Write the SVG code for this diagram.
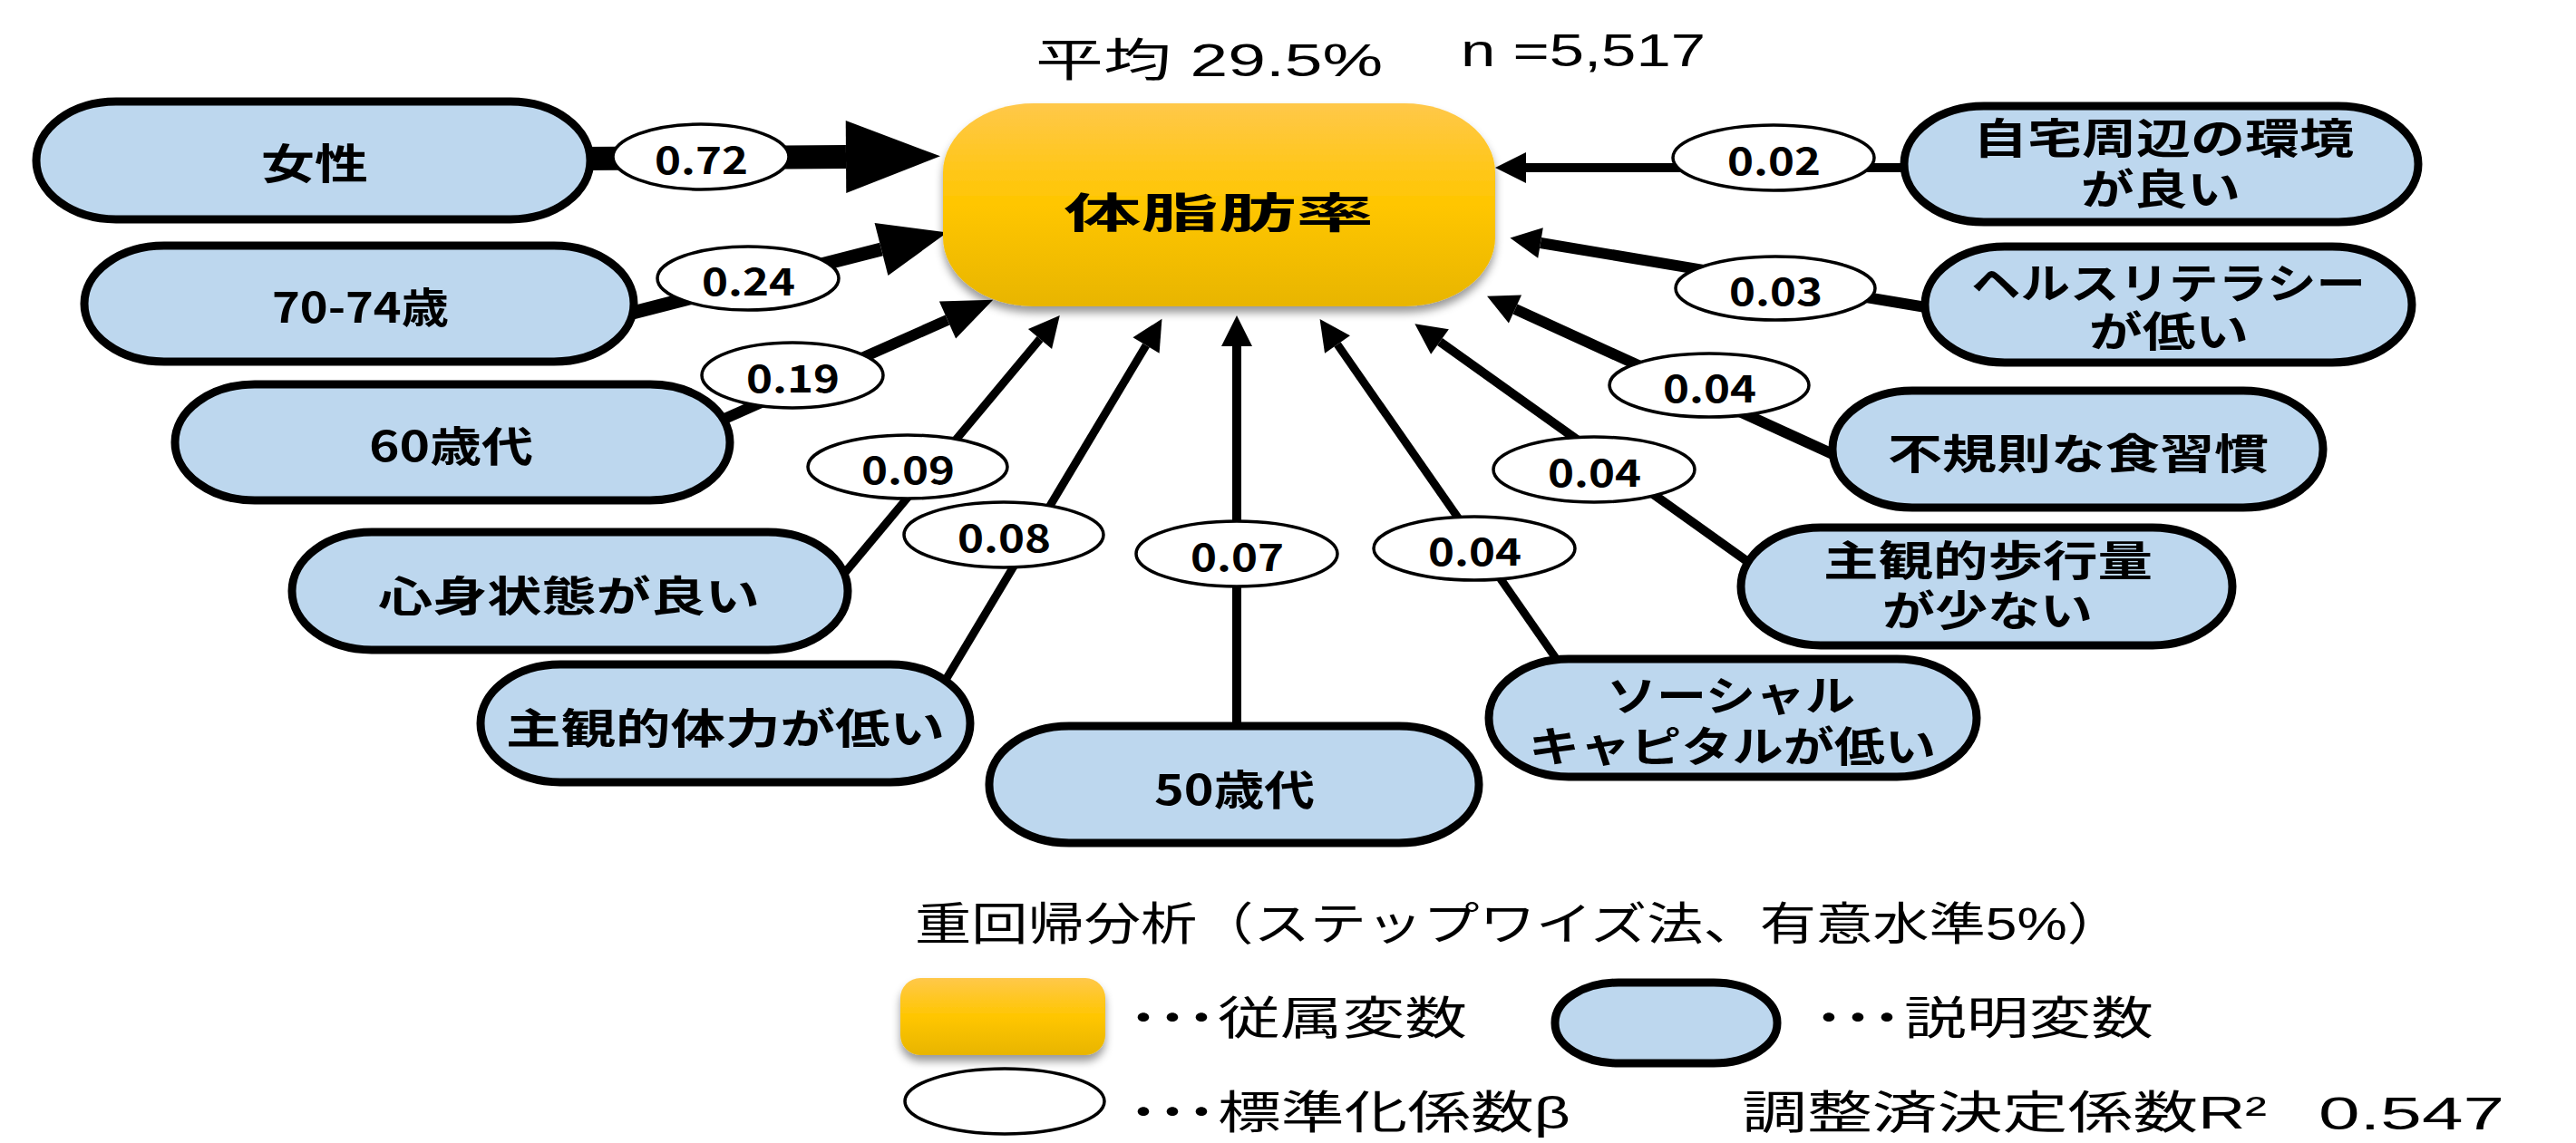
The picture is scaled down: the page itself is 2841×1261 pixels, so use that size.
<svg xmlns="http://www.w3.org/2000/svg" width="2841" height="1261" viewBox="0 0 2841 1261">
<defs>
<linearGradient id="gold" x1="0" y1="0" x2="0" y2="1">
<stop offset="0" stop-color="#FFC84A"/>
<stop offset="0.5" stop-color="#FFC600"/>
<stop offset="1" stop-color="#E8B500"/>
</linearGradient>
<filter id="shadow" x="-10%" y="-10%" width="120%" height="130%">
<feDropShadow dx="0" dy="7" stdDeviation="5" flood-color="#000" flood-opacity="0.4"/>
</filter>
<marker id="ahS" markerUnits="userSpaceOnUse" markerWidth="40" markerHeight="40" refX="0" refY="20" orient="auto" overflow="visible"><path d="M0,3 L34,20 L0,37 z" fill="#000"/></marker>
<marker id="ahM" markerUnits="userSpaceOnUse" markerWidth="60" markerHeight="50" refX="0" refY="25" orient="auto" overflow="visible"><path d="M0,2.5 L55,25 L0,47.5 z" fill="#000"/></marker>
<marker id="ahL" markerUnits="userSpaceOnUse" markerWidth="80" markerHeight="64" refX="0" refY="32" orient="auto" overflow="visible"><path d="M0,2 L75,32 L0,62 z" fill="#000"/></marker>
<marker id="ahXL" markerUnits="userSpaceOnUse" markerWidth="106" markerHeight="84" refX="0" refY="42" orient="auto" overflow="visible"><path d="M0,2 L104,42 L0,82 z" fill="#000"/></marker>
</defs>
<style>
.expl{fill:#BDD7EE;stroke:#000;stroke-width:9}
.dep{fill:url(#gold);filter:url(#shadow)}
.beta{fill:#fff;stroke:#000;stroke-width:3.5}
.conn{stroke:#000;fill:none}
.nt{font-family:"Noto Sans CJK JP","Noto Sans",sans-serif;font-weight:700;font-size:46px;dominant-baseline:central;fill:#000}
.nt2{font-family:"Liberation Sans","Noto Sans CJK JP",sans-serif;font-weight:700;font-size:46px;dominant-baseline:central;fill:#000}
.ct{font-family:"Noto Sans CJK JP","Noto Sans",sans-serif;font-weight:700;font-size:41px;dominant-baseline:central;fill:#000}
.lt{font-family:"Liberation Sans","Noto Sans CJK JP",sans-serif;font-weight:400;font-size:50px;dominant-baseline:central;fill:#000}
.dots{font-weight:700}
</style>
<rect width="2841" height="1261" fill="#fff"/>

<g id="title">
<text class="lt" x="1142" y="67" font-size="56" textLength="383" lengthAdjust="spacingAndGlyphs">平均 29.5%</text>
<text class="lt" x="1611" y="56" font-size="56" textLength="270" lengthAdjust="spacingAndGlyphs">n =5,517</text>
</g>

<g id="connectors">
<line class="conn" x1="640" y1="175" x2="933" y2="173" stroke-width="26" marker-end="url(#ahXL)"/>
<line class="conn" x1="690" y1="347" x2="972" y2="275" stroke-width="15" marker-end="url(#ahL)"/>
<line class="conn" x1="790" y1="466" x2="1045" y2="353" stroke-width="12" marker-end="url(#ahM)"/>
<line class="conn" x1="925" y1="640" x2="1147" y2="374" stroke-width="9" marker-end="url(#ahS)"/>
<line class="conn" x1="1040" y1="755" x2="1264" y2="381" stroke-width="9" marker-end="url(#ahS)"/>
<line class="conn" x1="1364" y1="810" x2="1364" y2="382" stroke-width="10" marker-end="url(#ahS)"/>
<line class="conn" x1="1722" y1="735" x2="1475" y2="380" stroke-width="9" marker-end="url(#ahS)"/>
<line class="conn" x1="1935" y1="625" x2="1588" y2="377" stroke-width="10" marker-end="url(#ahS)"/>
<line class="conn" x1="2030" y1="505" x2="1671" y2="341" stroke-width="12" marker-end="url(#ahS)"/>
<line class="conn" x1="2130" y1="340" x2="1699" y2="268" stroke-width="12" marker-end="url(#ahS)"/>
<line class="conn" x1="2110" y1="185" x2="1683" y2="185" stroke-width="10" marker-end="url(#ahS)"/>
</g>

<g id="coefficients">
<ellipse class="beta" cx="773" cy="173" rx="97" ry="36"/><text class="ct" x="722" y="174" textLength="103" lengthAdjust="spacingAndGlyphs">0.72</text>
<ellipse class="beta" cx="825" cy="307" rx="100" ry="35"/><text class="ct" x="774" y="308" textLength="103" lengthAdjust="spacingAndGlyphs">0.24</text>
<ellipse class="beta" cx="874" cy="414" rx="100" ry="36"/><text class="ct" x="823" y="415" textLength="103" lengthAdjust="spacingAndGlyphs">0.19</text>
<ellipse class="beta" cx="1001" cy="515" rx="110" ry="35"/><text class="ct" x="950" y="516" textLength="103" lengthAdjust="spacingAndGlyphs">0.09</text>
<ellipse class="beta" cx="1107" cy="590" rx="110" ry="36"/><text class="ct" x="1056" y="591" textLength="103" lengthAdjust="spacingAndGlyphs">0.08</text>
<ellipse class="beta" cx="1364" cy="611" rx="111" ry="36"/><text class="ct" x="1313" y="612" textLength="103" lengthAdjust="spacingAndGlyphs">0.07</text>
<ellipse class="beta" cx="1626" cy="605" rx="111" ry="35"/><text class="ct" x="1575" y="606" textLength="103" lengthAdjust="spacingAndGlyphs">0.04</text>
<ellipse class="beta" cx="1758" cy="518" rx="111" ry="36"/><text class="ct" x="1707" y="519" textLength="103" lengthAdjust="spacingAndGlyphs">0.04</text>
<ellipse class="beta" cx="1885" cy="425" rx="110" ry="35"/><text class="ct" x="1834" y="426" textLength="103" lengthAdjust="spacingAndGlyphs">0.04</text>
<ellipse class="beta" cx="1958" cy="318" rx="110" ry="35"/><text class="ct" x="1907" y="319" textLength="103" lengthAdjust="spacingAndGlyphs">0.03</text>
<ellipse class="beta" cx="1956" cy="174" rx="111" ry="36"/><text class="ct" x="1905" y="175" textLength="103" lengthAdjust="spacingAndGlyphs">0.02</text>
</g>

<g id="node-body-fat">
<rect class="dep" x="1040" y="114" width="609" height="224" rx="100" ry="76"/>
<text class="nt" x="1173" y="231" font-size="70" textLength="342" lengthAdjust="spacingAndGlyphs">体脂肪率</text>
</g>
<g id="node-female">
<rect class="expl" x="40" y="112" width="611" height="130" rx="88" ry="65"/>
<text class="nt" x="288" y="177" textLength="118" lengthAdjust="spacingAndGlyphs">女性</text>
</g>
<g id="node-70-74">
<rect class="expl" x="93" y="271" width="606" height="128" rx="88" ry="64"/>
<text class="nt" x="300" y="336" textLength="195" lengthAdjust="spacingAndGlyphs">70-74歳</text>
</g>
<g id="node-60s">
<rect class="expl" x="193" y="424" width="612" height="128" rx="88" ry="64"/>
<text class="nt" x="407" y="489" textLength="181" lengthAdjust="spacingAndGlyphs">60歳代</text>
</g>
<g id="node-mind-body">
<rect class="expl" x="322" y="587" width="613" height="130" rx="88" ry="65"/>
<text class="nt" x="417" y="654" textLength="421" lengthAdjust="spacingAndGlyphs">心身状態が良い</text>
</g>
<g id="node-fitness">
<rect class="expl" x="530" y="733" width="540" height="130" rx="88" ry="65"/>
<text class="nt" x="558" y="800" textLength="484" lengthAdjust="spacingAndGlyphs">主観的体力が低い</text>
</g>
<g id="node-50s">
<rect class="expl" x="1091" y="801" width="540" height="129" rx="88" ry="64"/>
<text class="nt" x="1273" y="868" textLength="177" lengthAdjust="spacingAndGlyphs">50歳代</text>
</g>
<g id="node-environment">
<rect class="expl" x="2100" y="117" width="567" height="128" rx="88" ry="64"/>
<text class="nt2"><tspan x="2176" y="153" textLength="420" lengthAdjust="spacingAndGlyphs">自宅周辺の環境</tspan><tspan x="2295" y="209" textLength="176" lengthAdjust="spacingAndGlyphs">が良い</tspan></text>
</g>
<g id="node-literacy">
<rect class="expl" x="2123" y="272" width="537" height="128" rx="88" ry="64"/>
<text class="nt2"><tspan x="2174" y="313" textLength="435" lengthAdjust="spacingAndGlyphs">ヘルスリテラシー</tspan><tspan x="2304" y="366" textLength="176" lengthAdjust="spacingAndGlyphs">が低い</tspan></text>
</g>
<g id="node-diet">
<rect class="expl" x="2021" y="431" width="541" height="129" rx="88" ry="64"/>
<text class="nt" x="2082" y="497" textLength="420" lengthAdjust="spacingAndGlyphs">不規則な食習慣</text>
</g>
<g id="node-walking">
<rect class="expl" x="1920" y="582" width="542" height="130" rx="88" ry="65"/>
<text class="nt2"><tspan x="2011" y="619" textLength="363" lengthAdjust="spacingAndGlyphs">主観的歩行量</tspan><tspan x="2076" y="674" textLength="232" lengthAdjust="spacingAndGlyphs">が少ない</tspan></text>
</g>
<g id="node-social">
<rect class="expl" x="1642" y="727" width="538" height="130" rx="88" ry="65"/>
<text class="nt2"><tspan x="1772" y="768" textLength="274" lengthAdjust="spacingAndGlyphs">ソーシャル</tspan><tspan x="1686" y="824" textLength="449" lengthAdjust="spacingAndGlyphs">キャピタルが低い</tspan></text>
</g>

<g id="legend">
<text class="lt" x="1009" y="1020" textLength="1333" lengthAdjust="spacingAndGlyphs">重回帰分析（ステップワイズ法、有意水準5%）</text>
<rect class="dep" x="993" y="1079" width="226" height="85" rx="22" ry="22"/>
<text class="lt"><tspan class="dots" x="1245" y="1124" textLength="96" lengthAdjust="spacingAndGlyphs">･･･</tspan><tspan x="1343" y="1124" textLength="275" lengthAdjust="spacingAndGlyphs">従属変数</tspan></text>
<rect class="expl" x="1715" y="1084" width="245" height="89" rx="70" ry="44"/>
<text class="lt"><tspan class="dots" x="2001" y="1124" textLength="96" lengthAdjust="spacingAndGlyphs">･･･</tspan><tspan x="2100" y="1124" textLength="275" lengthAdjust="spacingAndGlyphs">説明変数</tspan></text>
<ellipse class="beta" cx="1108" cy="1215" rx="110" ry="36"/>
<text class="lt"><tspan class="dots" x="1245" y="1228" textLength="96" lengthAdjust="spacingAndGlyphs">･･･</tspan><tspan x="1343" y="1228" textLength="389" lengthAdjust="spacingAndGlyphs">標準化係数β</tspan></text>
<text class="lt"><tspan x="1921" y="1228" textLength="579" lengthAdjust="spacingAndGlyphs">調整済決定係数R²</tspan><tspan x="2557" y="1229" textLength="205" lengthAdjust="spacingAndGlyphs">0.547</tspan></text>
</g>
</svg>
